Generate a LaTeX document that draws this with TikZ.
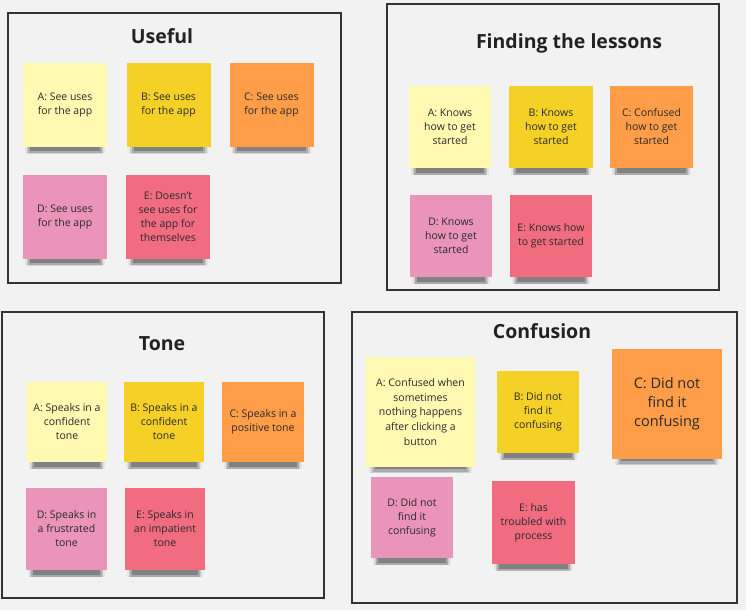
\documentclass[tikz,border=0pt]{standalone}
\usepackage{fontspec}
\setmainfont{Open Sans}
\usetikzlibrary{shadows}

\definecolor{board}{HTML}{F2F2F2}
\definecolor{framegray}{HTML}{333333}
\definecolor{titlegray}{HTML}{222222}
\definecolor{notetext}{HTML}{2A2A2A}
\definecolor{paleyellow}{HTML}{FFF9B1}
\definecolor{stickyyellow}{HTML}{F5D128}
\definecolor{stickyorange}{HTML}{FF9D48}
\definecolor{stickypink}{HTML}{EA94BB}
\definecolor{stickyred}{HTML}{F16C7F}

\tikzset{
	frame/.style={draw=framegray, line width=2pt},
	boardtitle/.style={font=\bfseries\fontsize{19.5}{23}\selectfont, text=titlegray},
	note/.style={minimum width=84pt, minimum height=84pt, inner sep=2pt, align=center,
		text=notetext, font=\fontsize{10.5}{14}\selectfont,
		drop shadow={shadow xshift=0pt, shadow yshift=-9pt, shadow scale=0.95, fill=black, opacity=0.06, rounded corners=5pt},
		drop shadow={shadow xshift=0pt, shadow yshift=-12pt, shadow scale=0.91, fill=black, opacity=0.1, rounded corners=5pt},
		drop shadow={shadow xshift=0pt, shadow yshift=-14pt, shadow scale=0.87, fill=black, opacity=0.16, rounded corners=5pt},
		drop shadow={shadow xshift=0pt, shadow yshift=-14pt, shadow scale=0.83, fill=black, opacity=0.24, rounded corners=5pt}},
}

\begin{document}
\begin{tikzpicture}[x=1pt, y=-1pt]
		%%%%% START %%%%%
		
		\fill[board] (0,0) rectangle (746,610);
		\useasboundingbox (0,0) rectangle (746,610);
		
		% Useful
		\node[frame, minimum width=333pt, minimum height=270pt] (useful) at (174.5,148) {};
		\node[boardtitle] (usefulT) at (162,36) {Useful};
		\node[note, fill=paleyellow] (useA) at (65,104.5) {A: See uses\\for the app};
		\node[note, fill=stickyyellow] (useB) at (168.5,104.5) {B: See uses\\for the app};
		\node[note, fill=stickyorange] (useC) at (271.5,104.5) {C: See uses\\for the app};
		\node[note, fill=stickypink] (useD) at (65,216.5) {D: See uses\\for the app};
		\node[note, fill=stickyred] (useE) at (168,216.5) {E: Doesn't\\see uses for\\the app for\\themselves};
		
		% Finding the lessons
		\node[frame, minimum width=332pt, minimum height=286pt] (finding) at (553,147) {};
		\node[boardtitle] (findingT) at (569,43) {Finding the lessons};
		\node[note, fill=paleyellow, minimum width=82pt, minimum height=82pt] (findA) at (450,127) {A: Knows\\how to get\\started};
		\node[note, fill=stickyyellow, minimum height=82pt] (findB) at (551,127) {B: Knows\\how to get\\started};
		\node[note, fill=stickyorange, minimum width=83pt, minimum height=82pt] (findC) at (651.5,127) {C: Confused\\how to get\\started};
		\node[note, fill=stickypink, minimum width=82pt, minimum height=82pt] (findD) at (451,236) {D: Knows\\how to get\\started};
		\node[note, fill=stickyred, minimum width=82pt, minimum height=82pt] (findE) at (551,236) {E: Knows how\\to get started};
		
		% Tone
		\node[frame, minimum width=322pt, minimum height=286pt] (tone) at (163,455) {};
		\node[boardtitle] (toneT) at (162,344) {Tone};
		\node[note, fill=paleyellow, minimum width=80pt, minimum height=80pt] (toneA) at (67,422) {A: Speaks in a\\confident\\tone};
		\node[note, fill=stickyyellow, minimum width=80pt, minimum height=80pt] (toneB) at (164,422) {B: Speaks in a\\confident\\tone};
		\node[note, fill=stickyorange, minimum width=82pt, minimum height=80pt] (toneC) at (263,422) {C: Speaks in a\\positive tone};
		\node[note, fill=stickypink, minimum width=81pt, minimum height=82pt] (toneD) at (66.5,529) {D: Speaks in\\a frustrated\\tone};
		\node[note, fill=stickyred, minimum width=80pt, minimum height=82pt] (toneE) at (165,529) {E: Speaks in\\an impatient\\tone};
		
		% Confusion
		\node[frame, minimum width=385pt, minimum height=291pt] (confusion) at (544.5,457.5) {};
		\node[boardtitle] (confusionT) at (542,331) {Confusion};
		\node[note, fill=paleyellow, minimum width=109pt, minimum height=110pt, font=\fontsize{10.5}{14.7}\selectfont] (confA) at (420.5,412) {A: Confused when\\sometimes\\nothing happens\\after clicking a\\button};
		\node[note, fill=stickyyellow, minimum width=82pt, minimum height=82pt] (confB) at (538,412) {B: Did not\\find it\\confusing};
		\node[note, fill=stickyorange, minimum width=110pt, minimum height=110pt, font=\fontsize{14.5}{19}\selectfont] (confC) at (667,404) {C: Did not\\find it\\confusing};
		\node[note, fill=stickypink, minimum width=82pt, minimum height=81pt] (confD) at (412,517.5) {D: Did not\\find it\\confusing};
		\node[note, fill=stickyred, minimum width=83pt, minimum height=83pt] (confE) at (533.5,522.5) {E: has\\troubled with\\process};
		
		%%%%% END %%%%%
\end{tikzpicture}
\end{document}
